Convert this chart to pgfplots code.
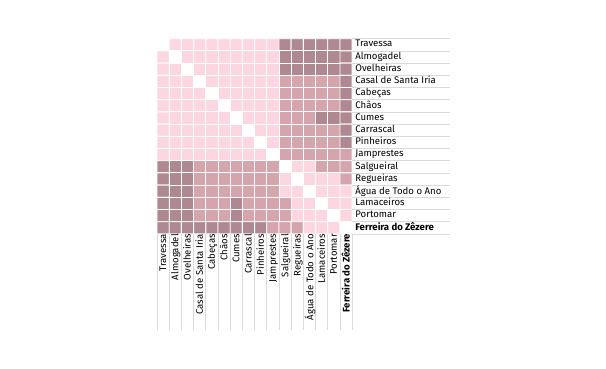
\documentclass[border=0pt]{standalone}
\usepackage{pgfplots}
\pgfplotsset{compat=1.18}
\usepackage{fontspec}
\setmainfont{Fira Sans}
\definecolor{cW}{RGB}{255,255,255}
\definecolor{cL}{RGB}{252,214,225}
\definecolor{cM}{RGB}{213,165,173}
\definecolor{cD}{RGB}{174,137,146}
\definecolor{gline}{RGB}{218,218,218}
\begin{document}
\begin{tikzpicture}
\path[use as bounding box] (0pt,0pt) rectangle (606pt,368pt);
\begin{axis}[
  at={(157pt,134.1pt)}, anchor=south west,
  scale only axis, width=195.2pt, height=195.2pt,
  xmin=-0.5, xmax=15.5, ymin=-0.5, ymax=15.5,
  y dir=reverse,
  axis lines=none, xtick=\empty, ytick=\empty,
  clip=false,
  colormap={cells}{rgb255=(255,255,255) rgb255=(252,214,225) rgb255=(213,165,173) rgb255=(174,137,146)},
  colormap access=direct,
]
\addplot[matrix plot*, mesh/cols=16, point meta=explicit, draw=white, line width=0.9pt]
 table[meta=c, row sep=\\] {
x y c\\
0 0 0\\ 1 0 1\\ 2 0 1\\ 3 0 1\\ 4 0 1\\ 5 0 1\\ 6 0 1\\ 7 0 1\\ 8 0 1\\ 9 0 1\\ 10 0 3\\ 11 0 3\\ 12 0 3\\ 13 0 3\\ 14 0 3\\ 15 0 3\\
0 1 1\\ 1 1 0\\ 2 1 1\\ 3 1 1\\ 4 1 1\\ 5 1 1\\ 6 1 1\\ 7 1 1\\ 8 1 1\\ 9 1 1\\ 10 1 3\\ 11 1 3\\ 12 1 3\\ 13 1 3\\ 14 1 3\\ 15 1 3\\
0 2 1\\ 1 2 1\\ 2 2 0\\ 3 2 1\\ 4 2 1\\ 5 2 1\\ 6 2 1\\ 7 2 1\\ 8 2 1\\ 9 2 1\\ 10 2 3\\ 11 2 3\\ 12 2 3\\ 13 2 3\\ 14 2 3\\ 15 2 3\\
0 3 1\\ 1 3 1\\ 2 3 1\\ 3 3 0\\ 4 3 1\\ 5 3 1\\ 6 3 1\\ 7 3 1\\ 8 3 1\\ 9 3 1\\ 10 3 2\\ 11 3 2\\ 12 3 2\\ 13 3 2\\ 14 3 2\\ 15 3 3\\
0 4 1\\ 1 4 1\\ 2 4 1\\ 3 4 1\\ 4 4 0\\ 5 4 1\\ 6 4 1\\ 7 4 1\\ 8 4 1\\ 9 4 1\\ 10 4 2\\ 11 4 2\\ 12 4 2\\ 13 4 2\\ 14 4 2\\ 15 4 3\\
0 5 1\\ 1 5 1\\ 2 5 1\\ 3 5 1\\ 4 5 1\\ 5 5 0\\ 6 5 1\\ 7 5 1\\ 8 5 1\\ 9 5 1\\ 10 5 2\\ 11 5 2\\ 12 5 2\\ 13 5 2\\ 14 5 2\\ 15 5 3\\
0 6 1\\ 1 6 1\\ 2 6 1\\ 3 6 1\\ 4 6 1\\ 5 6 1\\ 6 6 0\\ 7 6 1\\ 8 6 1\\ 9 6 1\\ 10 6 2\\ 11 6 2\\ 12 6 2\\ 13 6 3\\ 14 6 3\\ 15 6 3\\
0 7 1\\ 1 7 1\\ 2 7 1\\ 3 7 1\\ 4 7 1\\ 5 7 1\\ 6 7 1\\ 7 7 0\\ 8 7 1\\ 9 7 1\\ 10 7 2\\ 11 7 2\\ 12 7 2\\ 13 7 2\\ 14 7 2\\ 15 7 3\\
0 8 1\\ 1 8 1\\ 2 8 1\\ 3 8 1\\ 4 8 1\\ 5 8 1\\ 6 8 1\\ 7 8 1\\ 8 8 0\\ 9 8 1\\ 10 8 2\\ 11 8 2\\ 12 8 2\\ 13 8 2\\ 14 8 2\\ 15 8 3\\
0 9 1\\ 1 9 1\\ 2 9 1\\ 3 9 1\\ 4 9 1\\ 5 9 1\\ 6 9 1\\ 7 9 1\\ 8 9 1\\ 9 9 0\\ 10 9 2\\ 11 9 2\\ 12 9 2\\ 13 9 2\\ 14 9 2\\ 15 9 2\\
0 10 3\\ 1 10 3\\ 2 10 3\\ 3 10 2\\ 4 10 2\\ 5 10 2\\ 6 10 2\\ 7 10 2\\ 8 10 2\\ 9 10 2\\ 10 10 0\\ 11 10 1\\ 12 10 1\\ 13 10 2\\ 14 10 2\\ 15 10 2\\
0 11 3\\ 1 11 3\\ 2 11 3\\ 3 11 2\\ 4 11 2\\ 5 11 2\\ 6 11 2\\ 7 11 2\\ 8 11 2\\ 9 11 2\\ 10 11 1\\ 11 11 0\\ 12 11 1\\ 13 11 1\\ 14 11 1\\ 15 11 2\\
0 12 3\\ 1 12 3\\ 2 12 3\\ 3 12 2\\ 4 12 2\\ 5 12 2\\ 6 12 2\\ 7 12 2\\ 8 12 2\\ 9 12 2\\ 10 12 1\\ 11 12 1\\ 12 12 0\\ 13 12 1\\ 14 12 1\\ 15 12 1\\
0 13 3\\ 1 13 3\\ 2 13 3\\ 3 13 2\\ 4 13 2\\ 5 13 2\\ 6 13 3\\ 7 13 2\\ 8 13 2\\ 9 13 2\\ 10 13 2\\ 11 13 1\\ 12 13 1\\ 13 13 0\\ 14 13 1\\ 15 13 1\\
0 14 3\\ 1 14 3\\ 2 14 3\\ 3 14 2\\ 4 14 2\\ 5 14 2\\ 6 14 3\\ 7 14 2\\ 8 14 2\\ 9 14 2\\ 10 14 2\\ 11 14 1\\ 12 14 1\\ 13 14 1\\ 14 14 0\\ 15 14 1\\
0 15 3\\ 1 15 3\\ 2 15 3\\ 3 15 3\\ 4 15 3\\ 5 15 3\\ 6 15 3\\ 7 15 3\\ 8 15 3\\ 9 15 2\\ 10 15 2\\ 11 15 2\\ 12 15 1\\ 13 15 1\\ 14 15 1\\ 15 15 0\\
};
% guide lines
\foreach \k in {0,...,16} {
  \edef\temp{\noexpand\draw[gline, line width=0.8pt] (axis cs:15.5,\k-0.5) -- (axis cs:23.5,\k-0.5);
             \noexpand\draw[gline, line width=0.8pt] (axis cs:\k-0.5,15.5) -- (axis cs:\k-0.5,23.4);}
  \temp
}
% labels
\foreach \n [count=\i from 0] in {Travessa,Almogadel,Ovelheiras,Casal de Santa Iria,Cabeças,Chãos,Cumes,Carrascal,Pinheiros,Jamprestes,Salgueiral,Regueiras,Água de Todo o Ano,Lamaceiros,Portomar} {
  \edef\temp{\noexpand\node[anchor=west, inner sep=0pt, font=\noexpand\fontsize{9.6}{10}\noexpand\selectfont] at (axis cs:15.5,\i) {\noexpand\strut\noexpand\hspace{3pt}\n};
             \noexpand\node[anchor=east, rotate=90, inner sep=0pt, font=\noexpand\fontsize{9.6}{10}\noexpand\selectfont] at (axis cs:\i+0.08,15.5) {\noexpand\strut\n\noexpand\hspace{3pt}};}
  \temp
}
\node[anchor=west, inner sep=0pt, font=\fontsize{9.6}{10}\selectfont\bfseries] at (axis cs:15.5,15) {\strut\hspace{3pt}Ferreira do Zêzere};
\node[anchor=east, rotate=90, inner sep=0pt, font=\fontsize{9.6}{10}\selectfont\bfseries] at (axis cs:15.08,15.5) {\strut Ferreira do Zêzere\hspace{3pt}};
\end{axis}
\end{tikzpicture}
\end{document}
